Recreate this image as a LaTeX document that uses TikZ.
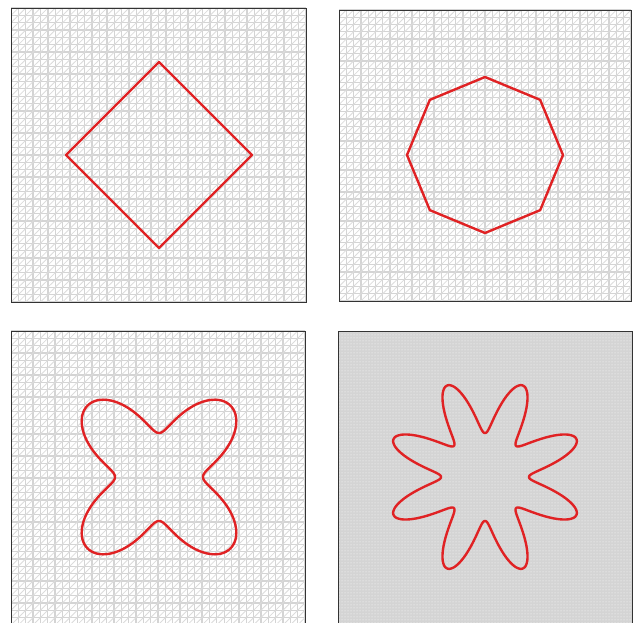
\documentclass[tikz,border=0pt]{standalone}
\usetikzlibrary{positioning,patterns}

\definecolor{curvered}{RGB}{224,34,36}

% one framed square of triangulated mesh: corners (#1,#2)-(#3,#4), #5 cells a side
\newcommand{\meshbox}[5]{%
  \begin{scope}
    \clip (#1,#2) rectangle (#3,#4);
    \pgfmathsetmacro\cellw{(#3-#1)/#5}
    \pgfmathsetmacro\cellh{(#4-#2)/#5}
    \foreach \i in {0,...,#5} {
      \draw[meshline] ({#1+\i*\cellw},#2) -- ({#1+\i*\cellw},#4);
      \draw[meshline] (#1,{#2+\i*\cellh}) -- (#3,{#2+\i*\cellh});
    }
    \foreach \k in {-#5,...,#5} {
      \draw[meshdiag] ({#1+\k*\cellw},#4) -- ({#1+(\k+#5)*\cellw},#2);
    }
  \end{scope}
  \draw[frame] (#1,#2) rectangle (#3,#4);
}

\begin{document}
\begin{tikzpicture}[x=1pt,y=-1pt,
  frame/.style={draw=black!80, line width=0.9pt},
  meshline/.style={draw=black!17, line width=1.3pt},
  meshdiag/.style={draw=black!14, line width=0.8pt},
  outline/.style={draw=curvered, line width=2.4pt, line join=round}]

\useasboundingbox (0,0) rectangle (633,623);

% panels
\meshbox{11}{8}{306}{302}{40}
\meshbox{339}{10}{631}{301}{40}
\meshbox{11}{331}{305}{625}{40}
% fine mesh, seen as grey with white specks
\fill[black!17] (338,331) rectangle (632,625);
\fill[pattern=dots, pattern color=white] (338,331) rectangle (632,625);
\draw[frame] (338,331) rectangle (632,625);

% centres
\coordinate (c1) at (159,155);
\coordinate (c2) at (485,155);
\coordinate (c3) at (159,477);
\coordinate (c4) at (485,477);

% square
\draw[outline] (c1) ++(-93,0) -- ++(93,-93) -- ++(93,93) -- ++(-93,93) -- cycle;

% octagon
\draw[outline] plot[domain=0:315, samples=8, variable=\t]
  ({485+78*cos(\t)},{155+78*sin(\t)}) -- cycle;

% four lobes
\draw[outline] plot[domain=0:359, samples=360, variable=\t]
  ({159+(44+57*pow(sin(2*\t),2))*cos(\t)},{477+(44+57*pow(sin(2*\t),2))*sin(\t)}) -- cycle;

% eight petals
\draw[outline] plot[domain=0:359.5, samples=720, variable=\t]
  ({485+(44+55*pow(abs(sin(4*\t)),2.2))*cos(\t)},{477+(44+55*pow(abs(sin(4*\t)),2.2))*sin(\t)}) -- cycle;

\end{tikzpicture}
\end{document}
